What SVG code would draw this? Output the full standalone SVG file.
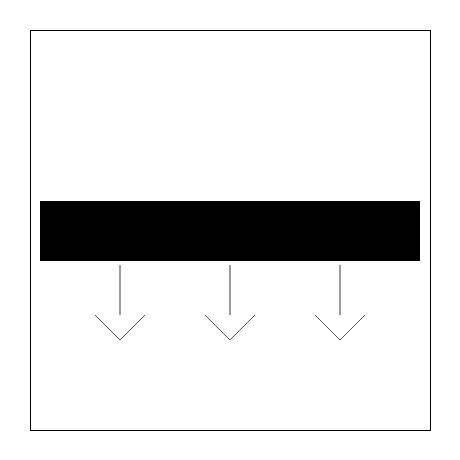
<svg xmlns="http://www.w3.org/2000/svg" width="460" height="460" viewBox="0 0 460 460">
<style>
.frame{fill:none;stroke:#000;stroke-width:1}
.shaft{stroke:#666;stroke-width:1.3;fill:none}
.head{stroke:#555;stroke-width:1;fill:none}
</style>
<rect width="460" height="460" fill="#fff"/>
<rect class="frame" x="30.5" y="30.5" width="400" height="400"/>
<g id="bar"><rect x="40" y="201" width="380" height="60" fill="#000"/></g>
<g id="connectors">
<line class="shaft" x1="120" y1="265" x2="120" y2="315"/>
<polyline class="head" points="95,315 120,340 145,315"/>
<line class="shaft" x1="230" y1="265" x2="230" y2="315"/>
<polyline class="head" points="205,315 230,340 255,315"/>
<line class="shaft" x1="340" y1="265" x2="340" y2="315"/>
<polyline class="head" points="315,315 340,340 365,315"/>
</g>
</svg>
